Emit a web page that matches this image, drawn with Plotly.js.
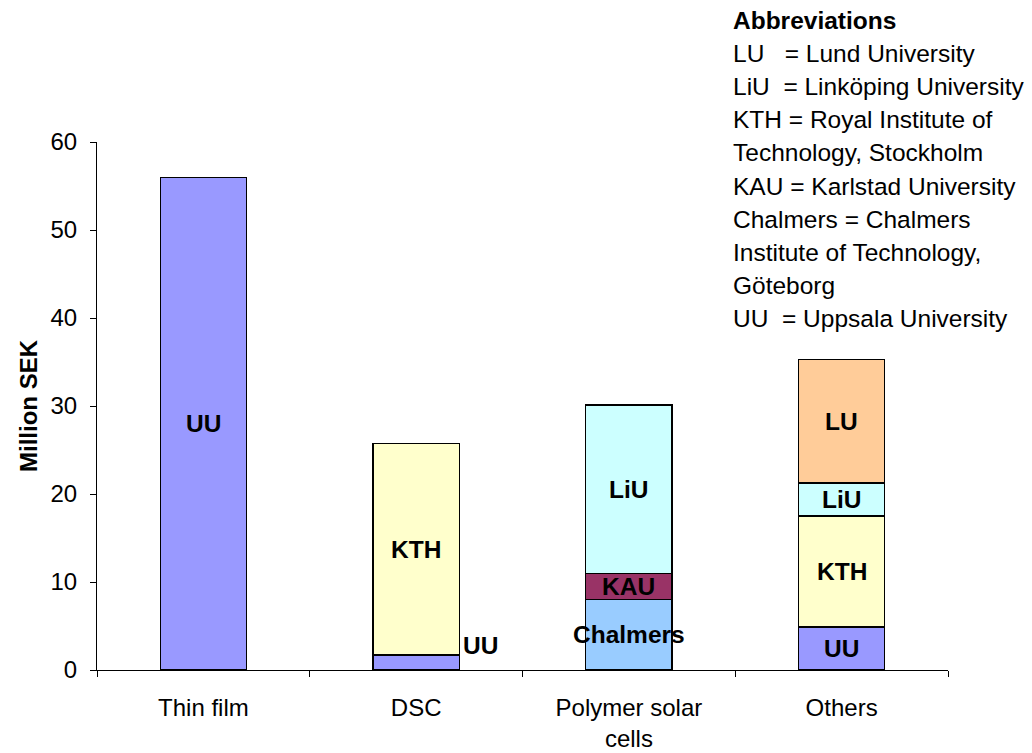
<!DOCTYPE html>
<html>
<head>
<meta charset="utf-8">
<script src="https://cdn.plot.ly/plotly-3.0.1.min.js"></script>
<style>html,body{margin:0;padding:0;background:#fff;}</style>
</head>
<body>
<div id="chart" style="width:1032px;height:753px;"></div>
<script>
const categories = ["Thin film", "DSC", "Polymer solar<br>cells", "Others"];
const institutions = ["UU", "Chalmers", "KTH", "KAU", "LiU", "LU"];
const UU       = [56.0, 1.7, null, 4.9];
const Chalmers = [null, null, 8.0, null];
const KTH      = [null, 24.0, null, 12.6];
const KAU      = [null, null, 3.0, null];
const LiU      = [null, null, 19.1, 3.75];
const LU       = [null, null, null, 14.0];
const seriesValues = [UU, Chalmers, KTH, KAU, LiU, LU];
const colors = ["#9999FF", "#99CCFF", "#FFFFCC", "#993366", "#CCFFFF", "#FFCC99"];
const abbreviations = [
  "<b>Abbreviations</b>",
  "LU\u00a0\u00a0 = Lund University",
  "LiU\u00a0 = Linköping University",
  "KTH = Royal Institute of",
  "Technology, Stockholm",
  "KAU = Karlstad University",
  "Chalmers = Chalmers",
  "Institute of Technology,",
  "Göteborg",
  "UU\u00a0 = Uppsala University"
];

const FONT = "Liberation Sans, Arial, sans-serif";

const traces = institutions.map((name, i) => ({
  type: "bar",
  name: name,
  x: categories,
  y: seriesValues[i],
  marker: {color: colors[i], line: {color: "#000", width: 1.3}},
  hoverinfo: "name+y"
}));

const annotations = [];
const base = categories.map(() => 0);
institutions.forEach((name, i) => {
  seriesValues[i].forEach((v, c) => {
    if (v == null) return;
    const mid = base[c] + v / 2;
    const outside = (categories[c] === "DSC" && name === "UU");
    annotations.push({
      x: categories[c], y: mid, xref: "x", yref: "y",
      text: "<b>" + name + "</b>", showarrow: false,
      font: {family: FONT, size: 24.5, color: "#000"},
      xshift: outside ? 64 : 0,
      yshift: outside ? 17 : 0
    });
    base[c] += v;
  });
});

// abbreviations block (pixel -> paper conversion)
const plotL = 97, plotR = 948, plotT = 142, plotB = 670;
abbreviations.forEach((line, k) => {
  const ypix = 20 + k * 33.2;
  annotations.push({
    xref: "paper", yref: "paper",
    x: (731 - plotL) / (plotR - plotL),
    y: (plotB - ypix) / (plotB - plotT),
    xanchor: "left", yanchor: "middle",
    text: line, showarrow: false,
    font: {family: FONT, size: 24.5, color: "#000"}
  });
});

const layout = {
  width: 1032, height: 753,
  margin: {l: plotL, r: 1032 - plotR, t: plotT, b: 753 - plotB},
  paper_bgcolor: "#fff", plot_bgcolor: "#fff",
  barmode: "stack",
  bargap: 0.595,
  showlegend: false,
  font: {family: FONT, size: 24, color: "#000"},
  xaxis: {
    type: "category",
    showline: true, linecolor: "#000", linewidth: 1,
    ticks: "outside", tickson: "boundaries", ticklen: 6, tickcolor: "#000",
    tickfont: {family: FONT, size: 24, color: "#000"},
    ticklabelstandoff: 16,
    showgrid: false, zeroline: false
  },
  yaxis: {
    range: [0, 60], dtick: 10,
    showline: true, linecolor: "#000", linewidth: 1,
    ticks: "outside", ticklen: 6, tickcolor: "#000",
    tickfont: {family: FONT, size: 24, color: "#000"},
    ticklabelstandoff: 8,
    showgrid: false, zeroline: false,
    title: {text: "<b>Million SEK</b>", font: {family: FONT, size: 24, color: "#000"}, standoff: 6}
  },
  annotations: annotations
};

Plotly.newPlot("chart", traces, layout, {displayModeBar: false, staticPlot: true});
</script>
</body>
</html>
